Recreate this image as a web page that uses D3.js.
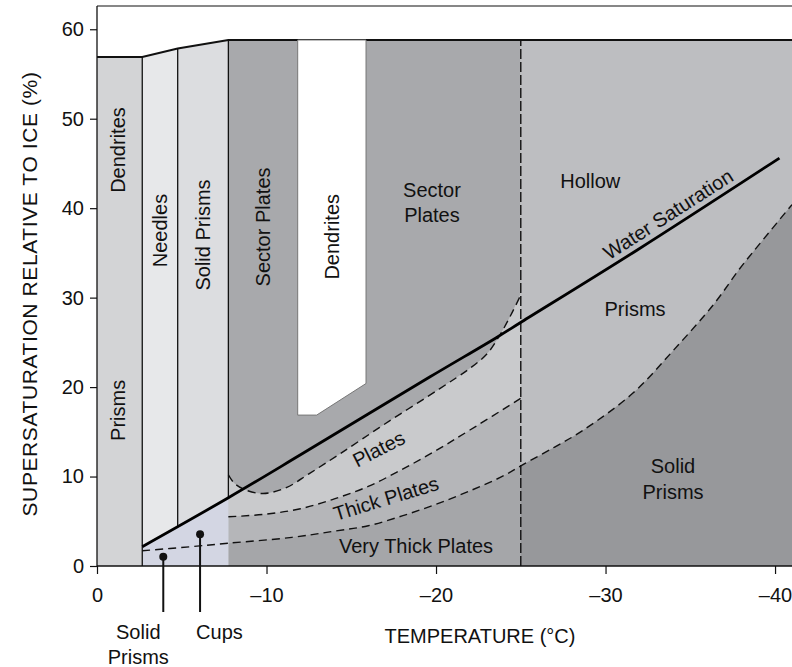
<!DOCTYPE html>
<html>
<head>
<meta charset="utf-8">
<script src="https://cdn.jsdelivr.net/npm/d3@7"></script>
<style>
  body { margin: 0; background: #fff; }
  text { font-family: "Liberation Sans", Arial, Helvetica, sans-serif; fill: #111; }
</style>
</head>
<body>
<svg id="chart" width="792" height="667"></svg>
<script>
// ticks
const tempTicks = [0, -10, -20, -30, -40];
const satTicks = [0, 10, 20, 30, 40, 50, 60];

// habit columns (deg C) and the top edge of the diagram [T, S]
const colEdges = [0, -2.67, -4.76, -7.75, -25, -41];
const topEdge = [[0, 56.9], [-2.67, 56.9], [-4.76, 57.85], [-7.75, 58.8], [-41, 58.8]];

// water saturation curve [T, S]
const waterSat = [[-2.67, 2.16], [-7.75, 7.63], [-11.98, 12.4], [-19.65, 21.15], [-23.58, 25.55],
                  [-25.06, 27.3], [-31.85, 35.3], [-40.26, 45.6]];

// dashed boundaries [T, S]
const platesTop = [[-7.75, 10.2], [-8.1, 9.25], [-8.7, 8.55], [-9.8, 8.1], [-11.2, 8.8], [-12.5, 10.3],
                   [-14.3, 12.5], [-17, 15.9], [-20.2, 19.8], [-22, 22.1], [-23, 23.7], [-23.7, 25.6],
                   [-24.4, 28.0], [-25.05, 30.5]];
const thickTop = [[-7.75, 5.5], [-10, 5.8], [-12, 6.4], [-14, 7.5], [-16, 8.9], [-18, 10.8],
                  [-20, 12.9], [-22, 15.2], [-25.05, 18.8]];
const veryThickTop = [[-2.67, 1.7], [-5.5, 2.15], [-7.75, 2.55], [-11.5, 3.2], [-14, 3.9], [-16, 4.5],
                      [-18, 5.6], [-20, 6.9], [-22, 8.4], [-24, 10.1], [-25, 11.2], [-27, 13.3],
                      [-28.7, 15.2], [-31.6, 19.3], [-34, 24.1], [-36.4, 29.3], [-37.9, 33.2],
                      [-38.7, 35.1], [-41, 40.4]];

// white dendrite block
const dendriteBlock = [[-11.84, 58.8], [-15.87, 58.8], [-15.87, 20.4], [-12.96, 16.87], [-11.84, 16.87]];

// pointers below the axis
const pointers = [{ t: -3.91, s: 1.04 }, { t: -6.08, s: 3.54 }];

// region names: [text, T, S, rotation]
const vLabels = [["Dendrites", -1.21, 46.5], ["Prisms", -1.21, 17.4], ["Needles", -3.72, 37.5],
                 ["Solid Prisms", -6.25, 37.0], ["Sector Plates", -9.79, 37.9], ["Dendrites", -13.86, 36.8]];
const hLabels = [["Sector", -19.76, 41.3], ["Plates", -19.76, 38.5], ["Hollow", -29.1, 42.2],
                 ["Prisms", -31.74, 28.0], ["Solid", -33.98, 10.36], ["Prisms", -33.98, 7.45],
                 ["Very Thick Plates", -18.82, 1.45]];
const slantLabels = [["Plates", -16.81, 12.4, -27], ["Thick Plates", -17.17, 6.8, -17]];

const W = 792, H = 667;
const FS = 20;
const svg = d3.select("#chart");

const x = d3.scaleLinear().domain([0, -41]).range([97, 792]);
const y = d3.scaleLinear().domain([0, 62.6]).range([566, 6]);

const water = d3.scaleLinear().domain(waterSat.map(d => d[0])).range(waterSat.map(d => d[1]));

const straight = d3.line().x(d => x(d[0])).y(d => y(d[1]));
const smooth = d3.line().x(d => x(d[0])).y(d => y(d[1])).curve(d3.curveCatmullRom);

const topS = 58.8;

// area under a curve down to S = 0
function underCurve(pts) {
  let first = pts[0], last = pts[pts.length - 1];
  return smooth(pts) + "L" + x(last[0]) + "," + y(0) + "L" + x(first[0]) + "," + y(0) + "Z";
}

const g = svg.append("g");

// columns on the warm side
g.append("path").attr("fill", "#d3d4d6")
  .attr("d", straight([[0, 0], [0, 56.9], [-2.67, 56.9], [-2.67, 0]]) + "Z");
g.append("path").attr("fill", "#e7e8ea")
  .attr("d", straight([[-2.67, 0], [-2.67, 56.9], [-4.76, 57.85], [-4.76, 0]]) + "Z");
g.append("path").attr("fill", "#dcdde0")
  .attr("d", straight([[-4.76, 0], [-4.76, 57.85], [-7.75, 58.8], [-7.75, 0]]) + "Z");

// sector plates block and the cold side
g.append("path").attr("fill", "#a8a9ac")
  .attr("d", straight([[-7.75, 0], [-7.75, topS], [-25, topS], [-25, 0]]) + "Z");
g.append("path").attr("fill", "#bdbec1")
  .attr("d", straight([[-25, 0], [-25, topS], [-41, topS], [-41, 0]]) + "Z");

// plate bands
g.append("path").attr("fill", "#c9cacc").attr("d", underCurve(platesTop.map(d => [Math.max(d[0], -25), d[1]])));
g.append("path").attr("fill", "#b5b6b9").attr("d", underCurve(thickTop.map(d => [Math.max(d[0], -25), d[1]])));
g.append("path").attr("fill", "#a5a6a9").attr("d", underCurve(veryThickTop.filter(d => d[0] <= -7.75 && d[0] >= -25)));
g.append("path").attr("fill", "#97989b").attr("d", underCurve(veryThickTop.filter(d => d[0] <= -25)));

// light blue zone below water saturation
let blue = [[-2.67, 0], [-2.67, water(-2.67)], [-4.76, water(-4.76)], [-7.75, water(-7.75)], [-7.75, 0]];
g.append("path").attr("fill", "#d3d6e3").attr("d", straight(blue) + "Z");

// top edge
g.append("path").attr("fill", "none").attr("stroke", "#111").attr("stroke-width", 2)
  .attr("d", straight(topEdge));

// white dendrite block
g.append("path").attr("fill", "#fff").attr("stroke", "#777").attr("stroke-width", 1)
  .attr("d", straight(dendriteBlock) + "Z");

// column borders
const borders = [[colEdges[1], 0, 56.9], [colEdges[2], water(colEdges[2]), 57.85], [colEdges[3], water(colEdges[3]), topS]];
g.selectAll(".border").data(borders).enter().append("line")
  .attr("x1", d => x(d[0])).attr("x2", d => x(d[0]))
  .attr("y1", d => y(d[1])).attr("y2", d => y(d[2]))
  .attr("stroke", "#111").attr("stroke-width", 1.3);

// dashed boundaries
[platesTop, thickTop, veryThickTop].forEach(c => {
  g.append("path").attr("fill", "none").attr("stroke", "#111").attr("stroke-width", 1.4)
    .attr("stroke-dasharray", "8,5").attr("d", smooth(c));
});
g.append("line").attr("x1", x(-25)).attr("x2", x(-25)).attr("y1", y(0)).attr("y2", y(topS))
  .attr("stroke", "#111").attr("stroke-width", 1.4).attr("stroke-dasharray", "10,3");

// water saturation
g.append("path").attr("fill", "none").attr("stroke", "#000").attr("stroke-width", 2.8)
  .attr("d", smooth(waterSat));

// frame top
g.append("line").attr("x1", x(0)).attr("x2", W).attr("y1", y(62.6)).attr("y2", y(62.6))
  .attr("stroke", "#111").attr("stroke-width", 1.2);

// axes
const fmt = d => d === 0 ? "0" : "\u2013" + Math.abs(d);
const xAxis = svg.append("g").attr("transform", `translate(0,${y(0)})`)
  .call(d3.axisBottom(x).tickValues(tempTicks).tickFormat(fmt).tickSize(8).tickPadding(14));
const yAxis = svg.append("g").attr("transform", `translate(${x(0)},0)`)
  .call(d3.axisLeft(y).tickValues(satTicks).tickSize(7).tickPadding(6));
[xAxis, yAxis].forEach(a => {
  a.select(".domain").remove();
  a.selectAll("line").attr("stroke", "#111").attr("stroke-width", 1.2);
  a.selectAll("text").attr("font-size", FS).attr("font-family", null).attr("fill", "#111");
});
svg.append("line").attr("x1", x(0)).attr("x2", W).attr("y1", y(0)).attr("y2", y(0))
  .attr("stroke", "#111").attr("stroke-width", 1.3);
svg.append("line").attr("x1", x(0)).attr("x2", x(0)).attr("y1", y(0)).attr("y2", y(62.6))
  .attr("stroke", "#111").attr("stroke-width", 1.3);

svg.append("text").attr("x", 480).attr("y", 643).attr("text-anchor", "middle")
  .attr("font-size", FS).text("TEMPERATURE (\u00B0C)");
svg.append("text").attr("transform", `translate(37,${(y(0) + y(62.6)) / 2 + 8}) rotate(-90)`)
  .attr("text-anchor", "middle").attr("font-size", 21).attr("letter-spacing", 0.6)
  .text("SUPERSATURATION RELATIVE TO ICE (%)");

// region labels
svg.selectAll(".vl").data(vLabels).enter().append("text")
  .attr("transform", d => `translate(${x(d[1])},${y(d[2])}) rotate(-90)`)
  .attr("text-anchor", "middle").attr("dy", "0.35em").attr("font-size", FS).text(d => d[0]);
svg.selectAll(".hl").data(hLabels).enter().append("text")
  .attr("x", d => x(d[1])).attr("y", d => y(d[2]))
  .attr("text-anchor", "middle").attr("font-size", FS).text(d => d[0]);
svg.selectAll(".sl").data(slantLabels).enter().append("text")
  .attr("transform", d => `translate(${x(d[1])},${y(d[2])}) rotate(${d[3]})`)
  .attr("text-anchor", "middle").attr("font-size", FS).text(d => d[0]);

// label along the water saturation line
const t0 = -30.4, t1 = -38.0;
const ang = Math.atan2(y(water(t1)) - y(water(t0)), x(t1) - x(t0)) * 180 / Math.PI;
svg.append("text").attr("transform", `translate(${x(t0)},${y(water(t0))}) rotate(${ang})`)
  .attr("dy", -6).attr("font-size", FS).text("Water Saturation");

// pointers
const ptr = svg.append("g");
ptr.selectAll("line").data(pointers).enter().append("line")
  .attr("x1", d => x(d.t)).attr("x2", d => x(d.t))
  .attr("y1", d => y(d.s)).attr("y2", y(0) + 46)
  .attr("stroke", "#111").attr("stroke-width", 2);
ptr.selectAll("circle").data(pointers).enter().append("circle")
  .attr("cx", d => x(d.t)).attr("cy", d => y(d.s)).attr("r", 4).attr("fill", "#111");
svg.append("text").attr("x", x(pointers[0].t) - 25).attr("y", 639).attr("text-anchor", "middle")
  .attr("font-size", FS).text("Solid");
svg.append("text").attr("x", x(pointers[0].t) - 25).attr("y", 664).attr("text-anchor", "middle")
  .attr("font-size", FS).text("Prisms");
svg.append("text").attr("x", x(pointers[1].t) - 4).attr("y", 639)
  .attr("font-size", FS).text("Cups");
</script>
</body>
</html>
